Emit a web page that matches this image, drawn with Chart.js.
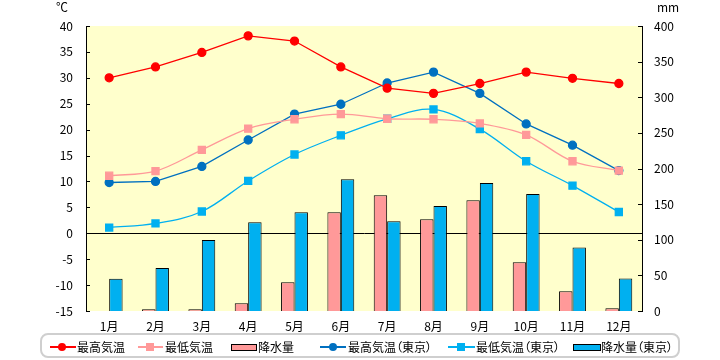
<!DOCTYPE html>
<html><head><meta charset="utf-8">
<script src="https://cdn.jsdelivr.net/npm/chart.js@4/dist/chart.umd.min.js"></script>
<style>
html,body{margin:0;padding:0;background:#fff;}
#wrap{position:relative;width:720px;height:360px;font-family:"Noto Sans CJK JP",sans-serif;font-feature-settings:"palt";}
canvas{position:absolute;left:0;top:0;}
.t{position:absolute;font-size:12px;color:#000;white-space:nowrap;line-height:14px;}
#lg{position:absolute;left:40px;top:333px;width:640px;height:25px;border:2px solid #cfcfcf;border-radius:8px;box-sizing:border-box;background:#fff;}
.ln{position:absolute;height:2px;}
.mk{position:absolute;}
</style></head>
<body><div id="wrap"><canvas id="c" width="720" height="360"></canvas>
<div class="t" style="left:56px;top:0px;">℃</div>
<div class="t" style="left:657px;top:0px;">mm</div>
<div id="lg"></div>
<div id="lgi"></div>
</div>
<script>
const months = ["1月","2月","3月","4月","5月","6月","7月","8月","9月","10月","11月","12月"];
const seriesNames = ["最高気温","最低気温","降水量","最高気温（東京）","最低気温（東京）","降水量（東京）"];
const maxTemp = [30,32.1,34.9,38.1,37.1,32.1,28.0,27.0,28.9,31.1,29.9,28.9];
const minTemp = [11.1,12.0,16.1,20.2,22.0,23.0,22.1,22.0,21.2,19.0,13.9,12.1];
const rain = [0,2.4,2.4,10.8,40.3,138.5,162.4,128.7,155.4,68.4,27.6,3.8];
const maxTokyo = [9.8,10.0,12.9,18.0,23.0,24.9,29.0,31.1,27.0,21.1,17.0,12.1];
const minTokyo = [1.1,1.9,4.2,10.1,15.2,18.9,22.1,23.9,20.1,13.9,9.2,4.1];
const rainTokyo = [45.1,60.4,99.5,124.5,138.5,184.8,126.1,147.5,179.8,164.1,89.1,45.7];
const tempTicks = {min:-15,max:40,step:5};
const rainTicks = {min:0,max:400,step:50};

const cRed='#FF0000', cPink='#FF9999', cBlue='#0070C0', cSky='#00B0F0';

const bgPlugin={id:'bg',beforeDraw(ch){const a=ch.chartArea,c=ch.ctx;c.save();c.fillStyle='#FFFFCC';c.fillRect(a.left,a.top,a.right-a.left,a.bottom-a.top);c.restore();},
 afterDraw(ch){const a=ch.chartArea,c=ch.ctx;c.save();c.strokeStyle='#000';c.lineWidth=1;
  ch.scales.y.ticks.forEach(t=>{const yy=Math.round(ch.scales.y.getPixelForValue(t.value))+0.5;c.beginPath();c.moveTo(a.left,yy);c.lineTo(a.left+4,yy);c.stroke();});
  ch.scales.y1.ticks.forEach(t=>{const yy=Math.round(ch.scales.y1.getPixelForValue(t.value))+0.5;c.beginPath();c.moveTo(a.right-4,yy);c.lineTo(a.right,yy);c.stroke();});
  c.restore();}};

const font={family:'"Noto Sans CJK JP", sans-serif',size:12};
new Chart(document.getElementById('c'),{
 data:{labels:months,datasets:[
  {type:'line',label:seriesNames[0],data:maxTemp,yAxisID:'y',borderColor:cRed,backgroundColor:cRed,borderWidth:1.3,pointRadius:4,pointStyle:'circle',tension:0,order:1},
  {type:'line',label:seriesNames[1],data:minTemp,yAxisID:'y',borderColor:cPink,backgroundColor:cPink,borderWidth:1.3,pointRadius:5,pointStyle:'rect',tension:0.35,order:1},
  {type:'bar',label:seriesNames[2],data:rain,yAxisID:'y1',backgroundColor:cPink,borderColor:'#000',borderWidth:1,order:2,categoryPercentage:0.58,barPercentage:1},
  {type:'line',label:seriesNames[3],data:maxTokyo,yAxisID:'y',borderColor:cBlue,backgroundColor:cBlue,borderWidth:1.3,pointRadius:4,pointStyle:'circle',tension:0,order:1},
  {type:'line',label:seriesNames[4],data:minTokyo,yAxisID:'y',borderColor:cSky,backgroundColor:cSky,borderWidth:1.3,pointRadius:5,pointStyle:'rect',tension:0.35,order:1},
  {type:'bar',label:seriesNames[5],data:rainTokyo,yAxisID:'y1',backgroundColor:cSky,borderColor:'#000',borderWidth:1,order:2,categoryPercentage:0.58,barPercentage:1}
 ]},
 options:{responsive:false,animation:false,
  layout:{padding:{top:26,left:0,right:0,bottom:0}},
  plugins:{legend:{display:false},tooltip:{enabled:false}},
  scales:{
   x:{offset:true,grid:{display:false},border:{display:false},ticks:{color:'#000',font,padding:0,maxRotation:0},afterFit(s){s.height=49;}},
   y:{position:'left',min:tempTicks.min,max:tempTicks.max,ticks:{stepSize:tempTicks.step,color:'#000',font,padding:13},
      grid:{drawTicks:false,color:c=>c.tick&&c.tick.value===0?'#000':'transparent',lineWidth:1},border:{display:true,color:'#000'},afterFit(s){s.width=86;}},
   y1:{position:'right',min:rainTicks.min,max:rainTicks.max,ticks:{stepSize:rainTicks.step,color:'#000',font,padding:12},
      grid:{display:false,drawTicks:false},border:{display:true,color:'#000'},afterFit(s){s.width=78;}}
  }},
 plugins:[bgPlugin]
});

// HTML legend
const lgItems=[
 {kind:'line',color:cRed,mark:'circle',x1:50,x2:76,mx:62,tx:77},
 {kind:'line',color:cPink,mark:'rect',x1:138,x2:163,mx:150,tx:165},
 {kind:'bar',color:cPink,x1:231,x2:257,tx:258},
 {kind:'line',color:cBlue,mark:'circle',x1:320,x2:346,mx:333,tx:348},
 {kind:'line',color:cSky,mark:'rect',x1:448,x2:475,mx:461,tx:476},
 {kind:'bar',color:cSky,x1:573,x2:601,tx:601}
];
const host=document.getElementById('lgi');const cy=347;
lgItems.forEach((it,i)=>{
 if(it.kind==='line'){
  const l=document.createElement('div');l.className='ln';l.style.cssText+=`left:${it.x1}px;top:${cy-1}px;width:${it.x2-it.x1}px;background:${it.color};`;host.appendChild(l);
  const m=document.createElement('div');m.className='mk';
  if(it.mark==='circle'){m.style.cssText+=`left:${it.mx-4}px;top:${cy-4}px;width:8px;height:8px;border-radius:50%;background:${it.color};`;}
  else{m.style.cssText+=`left:${it.mx-4}px;top:${cy-4}px;width:8px;height:8px;background:${it.color};`;}
  host.appendChild(m);
 } else {
  const b=document.createElement('div');b.className='mk';b.style.cssText+=`left:${it.x1}px;top:${cy-3}px;width:${it.x2-it.x1-2}px;height:5px;border:1px solid #000;background:${it.color};`;host.appendChild(b);
 }
 const t=document.createElement('div');t.className='t';t.style.cssText+=`left:${it.tx}px;top:${cy-7}px;`;t.textContent=seriesNames[i];host.appendChild(t);
});
</script></body></html>
